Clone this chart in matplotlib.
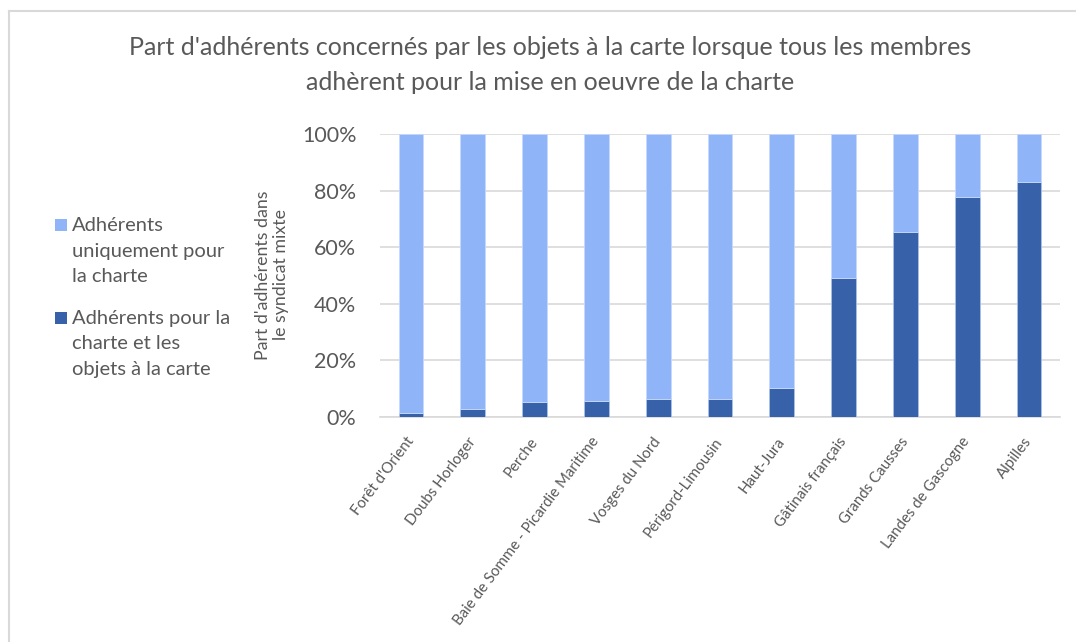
import matplotlib
matplotlib.use("Agg")
import matplotlib.pyplot as plt
from matplotlib.ticker import PercentFormatter
from matplotlib.patches import Rectangle
from matplotlib.lines import Line2D
from matplotlib.transforms import ScaledTranslation

categories = ["Forêt d'Orient", "Doubs Horloger", "Perche",
              "Baie de Somme - Picardie Maritime", "Vosges du Nord",
              "Périgord-Limousin", "Haut-Jura", "Gâtinais français",
              "Grands Causses", "Landes de Gascogne", "Alpilles"]
objets = [1.4, 2.7, 5.4, 5.7, 6.3, 6.4, 10.3, 49.1, 65.2, 77.8, 83.2]
charte_seule = [100 - v for v in objets]
yticks = [0, 20, 40, 60, 80, 100]

label_light = "Adhérents\nuniquement pour\nla charte"
label_dark = "Adhérents pour la\ncharte et les\nobjets à la carte"
title = ("Part d'adhérents concernés par les objets à la carte lorsque tous les membres\n"
         "adhèrent pour la mise en oeuvre de la charte")
ylabel = "Part d'adhérents dans\nle syndicat mixte"

plt.rcParams['font.family'] = ['Lato', 'DejaVu Sans']
gray = "#595959"
light = "#8FB4F8"
dark = "#3761A9"

W, H = 1076, 642
fig = plt.figure(figsize=(W / 100, H / 100), dpi=100)
ax = fig.add_axes([380 / W, 1 - 417 / H, 680 / W, 283 / H])

x = list(range(len(categories)))
ax.bar(x, objets, width=0.4, color=dark, edgecolor="#A9C0EA", linewidth=0.6, zorder=3)
ax.bar(x, charte_seule, bottom=objets, width=0.4, color=light, edgecolor="#C7D8FB",
       linewidth=0.6, zorder=3)

ax.set_ylim(0, 100)
ax.set_xlim(-0.5, len(categories) - 0.5)
ax.set_yticks(yticks)
ax.yaxis.set_major_formatter(PercentFormatter(decimals=0))
ax.grid(axis='y', color="#D9D9D9", linewidth=1.2, zorder=0)
for s in ["top", "right", "left"]:
    ax.spines[s].set_visible(False)
ax.spines["bottom"].set_color("#D9D9D9")
ax.spines["bottom"].set_linewidth(1.2)
ax.tick_params(axis='y', length=0, labelsize=15.5, labelcolor=gray, pad=17)
ax.tick_params(axis='x', length=0, labelsize=10.8, labelcolor=gray, pad=0)
ax.set_xticks(x)
ax.set_xticklabels(categories, rotation=53, ha='right', va='center',
                   rotation_mode='anchor')
off = ScaledTranslation(0 / 100, -22 / 100, fig.dpi_scale_trans)
for lab in ax.get_xticklabels():
    lab.set_transform(lab.get_transform() + off)

fig.text(272 / W, 1 - 275 / H, ylabel, rotation=90, ha='center', va='center',
         fontsize=12.8, color=gray, linespacing=1.15)

fig.text(550 / W, 1 - 65 / H, title, ha='center', va='center', fontsize=18,
         color=gray, linespacing=1.6)

# legend (drawn manually for exact line spacing)
legend_items = [(light, label_light, 251), (dark, label_dark, 344)]
for color, text, yc in legend_items:
    fig.text(72 / W, 1 - yc / H, text, ha='left', va='center', fontsize=14.5,
             color=gray, linespacing=1.6)
    fig.add_artist(Rectangle((55 / W, 1 - (yc - 20) / H), 12 / W, 12 / H,
                             transform=fig.transFigure, facecolor=color,
                             edgecolor='none'))

fig.add_artist(Line2D([8.5 / W, 8.5 / W], [0, 1 - 10.5 / H], transform=fig.transFigure,
                      color="#D9D9D9", linewidth=1.5))
fig.add_artist(Line2D([8.5 / W, 1], [1 - 10.5 / H, 1 - 10.5 / H], transform=fig.transFigure,
                      color="#D9D9D9", linewidth=1.5))

fig.savefig("out.png", dpi=100, facecolor="white")
